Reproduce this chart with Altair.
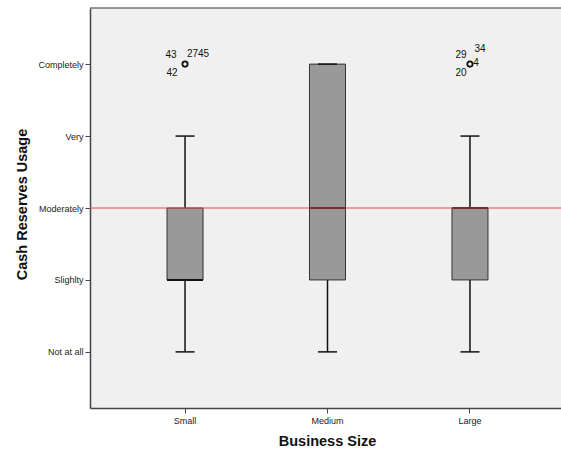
import altair as alt
import pandas as pd

# ---- data ----
groups = ["Small", "Medium", "Large"]
lower = [1, 1, 1]
q1 = [2, 2, 2]
median = [2, 3, 3]
q3 = [3, 5, 3]
upper = [4, 5, 4]

outlier_groups = ["Small", "Large"]
outlier_values = [5, 5]

label_groups = ["Small", "Small", "Small", "Large", "Large", "Large", "Large"]
label_values = [5, 5, 5, 5, 5, 5, 5]
label_texts = ["43", "2745", "42", "29", "34", "4", "20"]

ref_value = [3]

level_values = [1, 2, 3, 4, 5]
level_names = ["Not at all", "Slighlty", "Moderately", "Very", "Completely"]

# label placement (style only)
label_offsets = {
    "43": (-14, -9), "2745": (13, -10), "42": (-13, 9),
    "29": (-9, -9), "34": (10, -15), "4": (6, -1), "20": (-9, 9),
}

FONT = "Liberation Sans"

box_df = pd.DataFrame({"group": groups, "lower": lower, "q1": q1,
                       "median": median, "q3": q3, "upper": upper})
out_df = pd.DataFrame({"group": outlier_groups, "value": outlier_values})
lab_df = pd.DataFrame({"group": label_groups, "value": label_values, "label": label_texts})
ref_df = pd.DataFrame({"v": ref_value})

label_expr = "{" + ",".join(f"'{v}':'{n}'" for v, n in zip(level_values, level_names)) + "}[datum.value]"

x_scale = alt.Scale(domain=groups, paddingInner=0, paddingOuter=0.167, range=[0, 475])
x_enc = alt.X("group:N", sort=groups, scale=x_scale,
              axis=alt.Axis(title="Business Size", labelFont=FONT, labelFontSize=9,
                            labelColor="#222", labelAngle=0, labelPadding=3,
                            tickSize=5, tickColor="#444", domain=True,
                            domainColor="#444", domainWidth=1.5,
                            titleFont=FONT, titleFontSize=14.5, titleFontWeight="bold",
                            titleColor="#111", titleX=237, titleY=26, titleBaseline="top",
                            titleAlign="center"))
y_scale = alt.Scale(domain=[0.22, 5.78], nice=False, zero=False)
y_axis = alt.Axis(title="Cash Reserves Usage", values=level_values, labelExpr=label_expr,
                  labelFont=FONT, labelFontSize=9, labelColor="#222", labelPadding=2,
                  tickSize=5, tickColor="#444", grid=False, domain=True,
                  domainColor="#444", domainWidth=1.5,
                  titleFont=FONT, titleFontSize=14.5, titleFontWeight="bold",
                  titleColor="#111", titleX=-68, titleY=196, titleAngle=270,
                  titleBaseline="middle", titleAlign="center")

base = alt.Chart(box_df)

whisk_lo = base.mark_rule(color="#111", strokeWidth=1.5).encode(
    x=x_enc, y=alt.Y("lower:Q", scale=y_scale, axis=y_axis), y2="q1:Q")
whisk_hi = base.mark_rule(color="#111", strokeWidth=1.5).encode(
    x=alt.X("group:N", sort=groups), y=alt.Y("q3:Q"), y2="upper:Q")
box = base.mark_bar(size=36, color="#999999", stroke="#333333", strokeWidth=1).encode(
    x=alt.X("group:N", sort=groups), y=alt.Y("q1:Q"), y2="q3:Q")
med = base.mark_tick(size=36, thickness=2, color="#111", opacity=1).encode(
    x=alt.X("group:N", sort=groups), y=alt.Y("median:Q"))
cap_lo = base.mark_tick(size=19, thickness=1.5, color="#111", opacity=1).encode(
    x=alt.X("group:N", sort=groups), y=alt.Y("lower:Q"))
cap_hi = base.mark_tick(size=19, thickness=1.5, color="#111", opacity=1).encode(
    x=alt.X("group:N", sort=groups), y=alt.Y("upper:Q"))
ref = alt.Chart(ref_df).mark_rule(color="#e8474f", strokeWidth=1.2).encode(y="v:Q")
top_border = alt.Chart(ref_df).mark_rule(color="#777", strokeWidth=1.5).encode(
    y=alt.value(0), x=alt.value(0), x2=alt.value(471))
pts = alt.Chart(out_df).mark_point(shape="circle", filled=False, color="#111",
                                   size=28, strokeWidth=1.8, opacity=1).encode(
    x=alt.X("group:N", sort=groups), y=alt.Y("value:Q"))

labels = []
for txt in label_texts:
    dx, dy = label_offsets[txt]
    labels.append(
        alt.Chart(lab_df).transform_filter(alt.datum.label == txt)
        .mark_text(font=FONT, fontSize=10, color="#111", dx=dx, dy=dy)
        .encode(x=alt.X("group:N", sort=groups), y=alt.Y("value:Q"), text="label:N"))

chart = alt.layer(whisk_lo, whisk_hi, box, med, cap_lo, cap_hi, ref, top_border, pts, *labels).properties(
    width=471, height=400,
    autosize=alt.AutoSizeParams(type="none"),
    padding={"left": 90, "top": 8, "right": 0, "bottom": 45},
    background="white",
).configure_view(fill="#f0f0f0", strokeWidth=0)

chart.save("out.html", embed_options={"renderer": "svg", "actions": False})
